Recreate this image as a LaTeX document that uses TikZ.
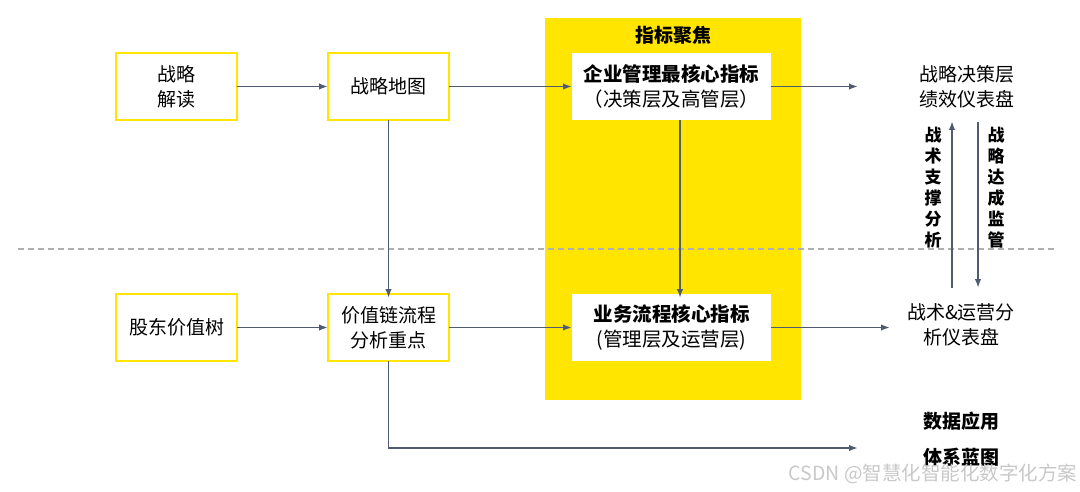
\documentclass[tikz,border=0pt]{standalone}
\usepackage{fontspec}
\setmainfont{Noto Sans CJK SC}
\usetikzlibrary{arrows.meta}
\definecolor{ylw}{HTML}{FFE500}
\definecolor{arr}{HTML}{4F5B70}
\definecolor{sepgray}{HTML}{B0B0B0}
\definecolor{wm}{HTML}{C8C8C8}
\begin{document}
\begin{tikzpicture}[x=1pt,y=-1pt,
  every node/.style={inner sep=0pt,outer sep=0pt},
  ybox/.style={draw=ylw,line width=1.8pt,fill=white,minimum width=121pt,minimum height=67pt,align=center,font=\fontsize{19}{25}\selectfont},
  wbox/.style={fill=white,minimum width=199pt,minimum height=67pt,align=center,font=\fontsize{19.5}{25}\selectfont},
  lbl/.style={align=center,font=\fontsize{19}{24.5}\selectfont},
  vlbl/.style={align=center,font=\bfseries\fontsize{17}{21}\selectfont},
  con/.style={draw=arr,line width=1.8pt,-{Latex[length=9pt,width=6.5pt]}}]
\useasboundingbox (0,0) rectangle (1080,492);
% yellow panel
\fill[ylw] (545,18) rectangle (801,400);
\node[font=\bfseries\fontsize{19}{20}\selectfont] (title) at (673,35) {指标聚焦};
% dashed separator
\draw[sepgray,line width=1.2pt,dash pattern=on 6pt off 4pt] (18,249) -- (1057,249);
% boxes
\node[ybox] (jd) at (176.5,86.5) {战略\\解读};
\node[ybox] (dt) at (388.5,86.5) {战略地图};
\node[wbox] (qy) at (671.5,86.5) {\textbf{企业管理最核心指标}\\（决策层及高管层）};
\node[ybox] (gd) at (176.5,327.5) {股东价值树};
\node[ybox] (jz) at (388.5,327.5) {价值链流程\\分析重点};
\node[wbox] (yw) at (671.5,327.5) {\textbf{业务流程核心指标}\\(管理层及运营层)};
% right labels
\node[lbl] (jc) at (967,87) {战略决策层\\绩效仪表盘};
\node[lbl] (zs) at (961,325) {战术\&运营分\\析仪表盘};
\node[vlbl] (zc) at (933,188) {战\\术\\支\\撑\\分\\析};
\node[vlbl] (dc) at (996,188) {战\\略\\达\\成\\监\\管};
\node[font=\bfseries\fontsize{19}{20}\selectfont] (sj) at (961,421) {数据应用};
\node[font=\bfseries\fontsize{19}{20}\selectfont] (tx) at (961,457) {体系蓝图};
\node[font=\fontsize{19.5}{20}\selectfont,text=wm,anchor=east] (wmk) at (1077,474) {CSDN @智慧化智能化数字化方案};
% coordinates
\coordinate (e1) at (858,86.5);
\coordinate (e2) at (890,327.5);
\coordinate (u1) at (952,288);
\coordinate (u2) at (952,121);
\coordinate (d1) at (978,122);
\coordinate (d2) at (978,288);
\coordinate (b1) at (388.5,448);
\coordinate (b2) at (858,448);
% connectors
\draw[con] (jd.east) -- (dt.west);
\draw[con] (dt.east) -- (qy.west);
\draw[con] (qy.east) -- (e1);
\draw[con] (dt.south) -- ([yshift=-4pt]jz.north);
\draw[con] (qy.south -| 680,0) -- ([yshift=-4pt]yw.north -| 680,0);
\draw[con] (gd.east) -- (jz.west);
\draw[con] (jz.east) -- (yw.west);
\draw[con] (yw.east) -- (e2);
\draw[con] (u1) -- (u2);
\draw[con] (d1) -- (d2);
\draw[con] (jz.south) -- (b1) -- (b2);
\end{tikzpicture}
\end{document}
